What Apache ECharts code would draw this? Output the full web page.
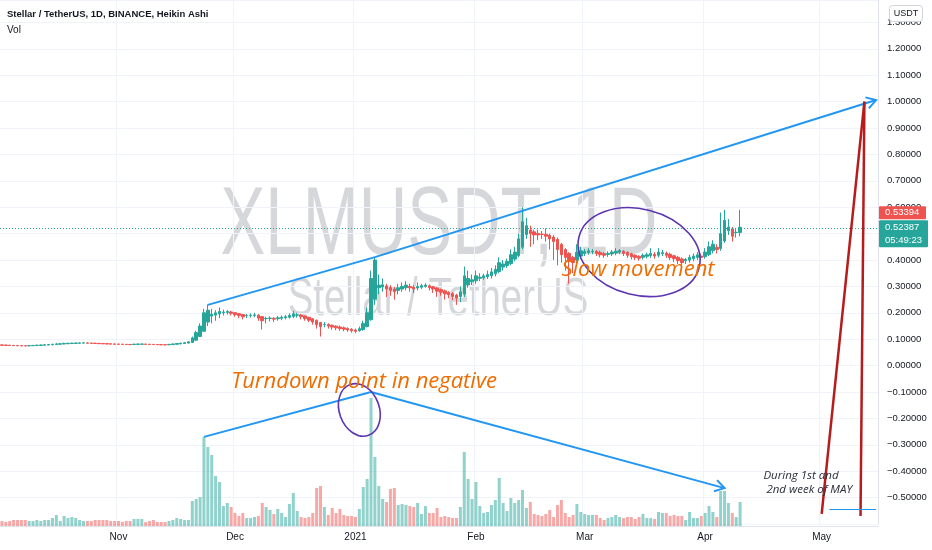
<!DOCTYPE html>
<html><head><meta charset="utf-8">
<script src="https://cdn.jsdelivr.net/npm/echarts@6/dist/echarts.min.js"></script>
<style>html,body{margin:0;padding:0;background:#fff}#c{width:932px;height:550px}</style>
</head><body><div id="c"></div>
<script>
// ---------- data ----------
const startDate = '2020-10-02';
const endDate = '2021-05-15';
const monthNames = ['Jan','Feb','Mar','Apr','May','Jun','Jul','Aug','Sep','Oct','Nov','Dec'];
// Heikin Ashi daily candles from 2020-10-02: [open, close, low, high]
const ohlc = [
[0.0785,0.0770,0.0752,0.0800],[0.0778,0.0765,0.0750,0.0790],[0.0772,0.0760,0.0746,0.0786],[0.0766,0.0755,0.0742,0.0780],[0.0760,0.0752,0.0738,0.0774],
[0.0756,0.0749,0.0735,0.0770],[0.0752,0.0747,0.0733,0.0768],[0.0749,0.0758,0.0738,0.0772],[0.0754,0.0766,0.0742,0.0780],[0.0760,0.0773,0.0748,0.0788],
[0.0767,0.0780,0.0754,0.0795],[0.0774,0.0788,0.0760,0.0802],[0.0781,0.0797,0.0768,0.0812],[0.0789,0.0808,0.0776,0.0825],[0.0798,0.0822,0.0785,0.0860],
[0.0810,0.0828,0.0795,0.0845],[0.0819,0.0840,0.0805,0.0870],[0.0829,0.0846,0.0815,0.0862],[0.0837,0.0851,0.0822,0.0866],[0.0844,0.0856,0.0830,0.0872],
[0.0850,0.0859,0.0836,0.0874],[0.0854,0.0861,0.0840,0.0876],[0.0858,0.0850,0.0836,0.0870],[0.0854,0.0845,0.0830,0.0866],[0.0849,0.0838,0.0824,0.0860],
[0.0844,0.0832,0.0818,0.0856],[0.0838,0.0826,0.0812,0.0850],[0.0832,0.0820,0.0806,0.0845],[0.0826,0.0815,0.0800,0.0838],[0.0820,0.0810,0.0796,0.0833],
[0.0815,0.0806,0.0792,0.0828],[0.0810,0.0802,0.0789,0.0824],[0.0806,0.0798,0.0785,0.0820],[0.0802,0.0795,0.0782,0.0816],[0.0798,0.0812,0.0786,0.0828],
[0.0805,0.0818,0.0792,0.0835],[0.0811,0.0816,0.0798,0.0830],[0.0814,0.0806,0.0794,0.0826],[0.0810,0.0800,0.0788,0.0822],[0.0805,0.0796,0.0784,0.0818],
[0.0800,0.0792,0.0780,0.0814],[0.0796,0.0789,0.0776,0.0810],[0.0792,0.0787,0.0774,0.0806],[0.0790,0.0805,0.0778,0.0820],[0.0798,0.0820,0.0786,0.0836],
[0.0809,0.0838,0.0796,0.0856],[0.0823,0.0850,0.0810,0.0868],[0.0836,0.0870,0.0822,0.0890],[0.0853,0.0900,0.0840,0.0930],[0.0876,0.1050,0.0860,0.1100],
[0.0963,0.1250,0.0940,0.1320],[0.1106,0.1500,0.1080,0.1600],[0.1303,0.2000,0.1280,0.2150],[0.1650,0.2100,0.1500,0.2320],[0.1875,0.1950,0.1600,0.2150],
[0.1912,0.2000,0.1700,0.2100],[0.1956,0.2050,0.1800,0.2200],[0.2003,0.2030,0.1900,0.2120],[0.2016,0.2050,0.1930,0.2100],[0.2033,0.1980,0.1900,0.2080],
[0.2006,0.1930,0.1850,0.2020],[0.1968,0.1900,0.1800,0.2000],[0.1934,0.1850,0.1750,0.1960],[0.1892,0.1900,0.1800,0.1960],[0.1896,0.1910,0.1820,0.1980],
[0.1903,0.1920,0.1830,0.2000],[0.1911,0.1800,0.1700,0.1950],[0.1856,0.1700,0.1370,0.1880],[0.1778,0.1790,0.1600,0.1850],[0.1784,0.1800,0.1680,0.1870],
[0.1792,0.1760,0.1650,0.1840],[0.1776,0.1810,0.1700,0.1880],[0.1793,0.1830,0.1720,0.1900],[0.1811,0.1850,0.1750,0.1920],[0.1830,0.1900,0.1780,0.1980],
[0.1865,0.1960,0.1800,0.2070],[0.1912,0.1920,0.1820,0.2000],[0.1916,0.1850,0.1750,0.1950],[0.1883,0.1780,0.1700,0.1900],[0.1831,0.1720,0.1650,0.1850],
[0.1776,0.1650,0.1550,0.1800],[0.1713,0.1550,0.1400,0.1750],[0.1631,0.1480,0.1100,0.1660],[0.1556,0.1560,0.1450,0.1650],[0.1558,0.1500,0.1400,0.1600],
[0.1529,0.1460,0.1360,0.1560],[0.1495,0.1430,0.1340,0.1530],[0.1462,0.1400,0.1320,0.1520],[0.1431,0.1380,0.1300,0.1480],[0.1405,0.1350,0.1280,0.1450],
[0.1378,0.1320,0.1250,0.1420],[0.1349,0.1300,0.1230,0.1400],[0.1324,0.1400,0.1280,0.1480],[0.1362,0.1600,0.1320,0.1700],[0.1481,0.2000,0.1450,0.2200],
[0.1740,0.3300,0.1700,0.3600],[0.2520,0.4000,0.2300,0.4100],[0.2950,0.3050,0.2700,0.3450],[0.2980,0.3060,0.2800,0.3300],[0.3020,0.2900,0.2600,0.3100],
[0.2960,0.2850,0.2650,0.3050],[0.2900,0.2800,0.2500,0.2980],[0.2850,0.2950,0.2700,0.3100],[0.2900,0.3000,0.2800,0.3150],[0.2950,0.3050,0.2850,0.3200],
[0.3000,0.2950,0.2800,0.3100],[0.2975,0.2900,0.2750,0.3050],[0.2938,0.3000,0.2850,0.3150],[0.2969,0.3030,0.2900,0.3100],[0.3000,0.3050,0.2950,0.3120],
[0.3025,0.2950,0.2850,0.3080],[0.2988,0.2900,0.2750,0.3020],[0.2944,0.2820,0.2600,0.2980],[0.2882,0.2780,0.2650,0.2920],[0.2831,0.2720,0.2500,0.2880],
[0.2776,0.2680,0.2550,0.2820],[0.2728,0.2620,0.2480,0.2780],[0.2674,0.2560,0.2300,0.2720],[0.2617,0.2800,0.2400,0.3000],[0.2709,0.3400,0.2600,0.3750],
[0.3054,0.3300,0.2950,0.3600],[0.3177,0.3250,0.3050,0.3450],[0.3213,0.3400,0.3100,0.3600],[0.3307,0.3350,0.3200,0.3500],[0.3328,0.3400,0.3250,0.3480],
[0.3364,0.3450,0.3280,0.3600],[0.3407,0.3550,0.3300,0.3700],[0.3478,0.3650,0.3380,0.3800],[0.3564,0.3900,0.3500,0.4100],[0.3732,0.3850,0.3600,0.4000],
[0.3791,0.3950,0.3700,0.4050],[0.3870,0.4200,0.3800,0.4400],[0.4035,0.4300,0.3950,0.4500],[0.4168,0.4800,0.4100,0.5000],[0.4484,0.5450,0.4400,0.6000],
[0.4967,0.5300,0.4800,0.5600],[0.5134,0.5000,0.4500,0.5300],[0.5067,0.4950,0.4600,0.5150],[0.5008,0.4950,0.4750,0.5150],[0.4979,0.4970,0.4800,0.5100],
[0.4975,0.4900,0.4700,0.5200],[0.4937,0.4800,0.4400,0.5000],[0.4869,0.4700,0.4000,0.4950],[0.4784,0.4400,0.3800,0.4850],[0.4592,0.4200,0.3900,0.4650],
[0.4396,0.4100,0.3600,0.4450],[0.4248,0.3950,0.3100,0.4300],[0.4099,0.3900,0.3500,0.4150],[0.4000,0.4300,0.3850,0.4600],[0.4150,0.4350,0.4050,0.4500],
[0.4250,0.4320,0.4150,0.4420],[0.4285,0.4350,0.4200,0.4450],[0.4318,0.4330,0.4220,0.4420],[0.4324,0.4250,0.4150,0.4380],[0.4287,0.4200,0.4100,0.4350],
[0.4244,0.4180,0.4080,0.4300],[0.4212,0.4250,0.4120,0.4330],[0.4231,0.4300,0.4150,0.4380],[0.4266,0.4330,0.4180,0.4450],[0.4298,0.4360,0.4220,0.4420],
[0.4329,0.4250,0.4150,0.4380],[0.4290,0.4180,0.4080,0.4330],[0.4235,0.4120,0.4020,0.4280],[0.4177,0.4100,0.4000,0.4220],[0.4139,0.4070,0.3980,0.4180],
[0.4104,0.4180,0.4020,0.4250],[0.4142,0.4200,0.4060,0.4280],[0.4171,0.4250,0.4080,0.4450],[0.4210,0.4150,0.4050,0.4300],[0.4180,0.4300,0.4100,0.4450],
[0.4240,0.4280,0.4150,0.4380],[0.4260,0.4180,0.4080,0.4320],[0.4220,0.4100,0.4000,0.4280],[0.4160,0.4050,0.3920,0.4200],[0.4105,0.3980,0.3850,0.4150],
[0.4043,0.3900,0.3750,0.4100],[0.3971,0.4020,0.3850,0.4080],[0.3996,0.4100,0.3900,0.4200],[0.4048,0.4150,0.3950,0.4250],[0.4099,0.4200,0.4000,0.4300],
[0.4150,0.4100,0.4000,0.4250],[0.4125,0.4300,0.4050,0.4450],[0.4212,0.4500,0.4150,0.4700],[0.4356,0.4600,0.4250,0.4750],[0.4478,0.4400,0.4250,0.4600],
[0.4439,0.5000,0.4350,0.5800],[0.4720,0.5500,0.4650,0.5900],[0.5110,0.5250,0.4950,0.5550],[0.5180,0.4900,0.4700,0.5250],[0.5040,0.5050,0.4850,0.5200],
[0.5045,0.5239,0.4900,0.5900]
];
// daily volume (tens of millions XLM)
const volumes = [
5,4,5,6,6,6,6,5,5,6, 5,6,6,8,11,5,10,8,9,8, 6,5,5,5,6,6,6,6,5,5, 5,4,5,5,7,7,7,4,5,6,
4,4,4,5,6,8,7,6,6,25, 27,29,89,79,71,50,44,20,23,19, 13,10,13,8,8,9,10,23,19,16, 12,17,13,9,22,33,15,9,8,9,
13,38,40,19,11,18,13,17,11,10, 10,9,17,39,47,128,69,40,27,24, 37,38,21,22,21,20,19,23,12,20, 13,13,18,9,10,9,8,8,19,74,
47,27,44,20,13,14,21,26,48,23, 15,28,23,26,36,18,24,12,11,10, 12,16,9,21,26,13,9,11,22,14, 12,11,11,11,8,6,8,9,11,9,
8,9,9,7,9,12,8,8,7,14, 13,13,10,11,10,10,6,14,8,8, 10,13,20,14,9,35,35,23,13,9, 24
];
const lastPrice = 0.52387;
const lastTrade = 0.53394;
const countdown = '05:49:23';
const priceMin = -0.6, priceMax = 1.385, priceStep = 0.1;
// drawings (date, price)
const trendPrice = [['2020-11-24',0.230],['2021-01-06',0.411],['2021-05-15',1.006]];
const trendVolume = [['2020-11-23',-0.270],['2021-01-05',-0.100],['2021-04-06',-0.464]];
const redLines = [['2021-05-01',-0.562],['2021-05-12',1.000],['2021-05-11',-0.570]];
const blueShort = [['2021-05-03',-0.545],['2021-05-15',-0.545]];
const ellipses = [{c:['2021-01-02',-0.168],rx:20,ry:27,rot:0.35},{c:['2021-03-15',0.43],rx:62,ry:43,rot:-0.25}];
const notes = [
  {at:['2021-02-23',0.362], text:'Slow movement', kind:'orange'},
  {at:['2020-11-30',-0.062], text:'Turndown point in negative', kind:'orange'},
  {at:['2021-04-16',-0.39], text:'During 1st and\n 2nd week of MAY', kind:'dark'}
];

// ---------- build ----------
const cats = [];
for (let t = Date.parse(startDate + 'T00:00:00Z'); t <= Date.parse(endDate + 'T00:00:00Z'); t += 86400000) {
  cats.push(new Date(t).toISOString().slice(0,10));
}
const UP = '#26a69a', DOWN = '#ef5350';
const volData = volumes.map((v,i) => ({value:v, itemStyle:{color: ohlc[i][1] >= ohlc[i][0] ? 'rgba(38,166,154,0.5)' : 'rgba(239,83,80,0.5)'}}));
const isMonthStart = (idx, v) => (v || cats[idx]).slice(8) === '01';
const fmtMonth = v => { const p = v.split('-'); return p[1] === '01' ? p[0] : monthNames[+p[1]-1]; };
const fmtPrice = v => (v < 0 ? '\u2212' : '') + Math.abs(v).toFixed(5);

const chart = echarts.init(document.getElementById('c'), null, {renderer:'canvas'});
chart.setOption({
  animation:false,
  backgroundColor:'#ffffff',
  grid:[
    {left:0, right:54, top:0, bottom:26},
    {left:0, right:54, top:326, bottom:24}
  ],
  xAxis:[
    {type:'category', gridIndex:0, data:cats, boundaryGap:true,
     axisLine:{show:false}, axisTick:{show:false}, axisLabel:{show:false},
     splitLine:{show:true, interval:isMonthStart, lineStyle:{color:'#f0f3fa', width:1}}},
    {type:'category', gridIndex:1, data:cats, boundaryGap:true,
     axisLine:{show:true, lineStyle:{color:'#e0e3eb'}}, axisTick:{show:false},
     axisLabel:{interval:isMonthStart, formatter:fmtMonth, color:'#131722', fontSize:10, margin:6, fontFamily:'Liberation Sans'},
     splitLine:{show:false}}
  ],
  yAxis:[
    {type:'value', gridIndex:0, position:'right', min:priceMin, max:priceMax, interval:priceStep,
     axisLine:{show:true, lineStyle:{color:'#e0e3eb'}}, axisTick:{show:false},
     axisLabel:{formatter:fmtPrice, color:'#131722', fontSize:9.5, margin:9, fontFamily:'Liberation Sans', showMinLabel:false, showMaxLabel:false},
     splitLine:{show:true, lineStyle:{color:'#f0f3fa', width:1}}},
    {type:'value', gridIndex:1, min:0, max:200, show:false, splitLine:{show:false}}
  ],
  series:[
    {type:'bar', name:'Vol', xAxisIndex:1, yAxisIndex:1, data:volData, barWidth:3, z:1},
    {type:'candlestick', name:'XLMUSDT', xAxisIndex:0, yAxisIndex:0, data:ohlc, barWidth:3, z:3,
     itemStyle:{color:UP, color0:DOWN, borderColor:UP, borderColor0:DOWN, borderWidth:1},
     markLine:{silent:true, symbol:['none','none'], label:{show:false},
       lineStyle:{color:UP, type:[1,2], width:1}, data:[{yAxis:lastPrice}]}}
  ]
});

// ---------- drawings ----------
const P = (d, v) => chart.convertToPixel({gridIndex:0}, [cats.indexOf(d), v]);
const yP = v => chart.convertToPixel({yAxisIndex:0}, v);
const g = [];
// watermark
g.push({type:'text', z:-1, x:439, y:228, scaleX:0.70,
  style:{text:'XLMUSDT, 1D', font:'96px "Liberation Sans"', fill:'rgba(120,123,134,0.3)', textAlign:'center', textVerticalAlign:'middle'}});
g.push({type:'text', z:-1, x:438, y:300, scaleX:0.71,
  style:{text:'Stellar / TetherUS', font:'54px "Liberation Sans"', fill:'rgba(120,123,134,0.3)', textAlign:'center', textVerticalAlign:'middle'}});
// legend
g.push({type:'text', z:50, x:7, y:14, style:{text:'Stellar / TetherUS, 1D, BINANCE, Heikin Ashi', font:'bold 9.5px "Liberation Sans"', fill:'#131722', textVerticalAlign:'middle'}});
g.push({type:'text', z:50, x:7, y:30, style:{text:'Vol', font:'10px "Liberation Sans"', fill:'#131722', textVerticalAlign:'middle'}});
// USDT box
g.push({type:'rect', z:50, shape:{x:889.5, y:5.5, width:33, height:16, r:3}, style:{fill:'#fff', stroke:'#d1d4dc', lineWidth:1}});
g.push({type:'text', z:51, x:906, y:14, style:{text:'USDT', font:'9px "Liberation Sans"', fill:'#131722', textAlign:'center', textVerticalAlign:'middle'}});

function seg(a, b, color, w, arrow){
  const p1 = P(a[0], a[1]), p2 = P(b[0], b[1]);
  g.push({type:'line', z:100, shape:{x1:p1[0], y1:p1[1], x2:p2[0], y2:p2[1]}, style:{stroke:color, lineWidth:w}});
  if (arrow){
    const an = Math.atan2(p2[1]-p1[1], p2[0]-p1[0]), L = 11, s = 0.55;
    g.push({type:'polyline', z:100, shape:{points:[
      [p2[0]-L*Math.cos(an-s), p2[1]-L*Math.sin(an-s)], [p2[0],p2[1]], [p2[0]-L*Math.cos(an+s), p2[1]-L*Math.sin(an+s)]]},
      style:{stroke:color, lineWidth:w, fill:null}});
  }
}
const BLUE = '#2196f3', DRED = '#b71c1c', PURPLE = '#5e35b1';
seg(trendPrice[0], trendPrice[1], BLUE, 2, false);
seg(trendPrice[1], trendPrice[2], BLUE, 2, true);
seg(trendVolume[0], trendVolume[1], BLUE, 2, false);
seg(trendVolume[1], trendVolume[2], BLUE, 2, true);
seg(redLines[0], redLines[1], DRED, 2.5, false);
seg(redLines[1], redLines[2], DRED, 2.5, false);
seg(blueShort[0], blueShort[1], BLUE, 1.2, false);
ellipses.forEach(e => {
  const c = P(e.c[0], e.c[1]);
  g.push({type:'ellipse', z:100, x:c[0], y:c[1], rotation:e.rot, shape:{cx:0, cy:0, rx:e.rx, ry:e.ry},
    style:{fill:null, stroke:PURPLE, lineWidth:1.6}});
});
notes.forEach(n => {
  const p = P(n.at[0], n.at[1]);
  const orange = n.kind === 'orange';
  g.push({type:'text', z:101, x:p[0], y:p[1], style:{text:n.text,
    font: orange ? 'italic 22px "Open Sans", "DejaVu Sans"' : 'italic 11.5px "Open Sans", "DejaVu Sans"',
    fill: orange ? '#ef6c00' : '#2a2e39', textVerticalAlign: orange ? 'middle' : 'top', lineHeight:14}});
});
// price tags
const yLast = yP(lastPrice);
g.push({type:'rect', z:60, shape:{x:879, y:yLast-7, width:49, height:27, r:1}, style:{fill:UP}});
g.push({type:'text', z:61, x:885, y:yLast, style:{text:lastPrice.toFixed(5), font:'9.5px "Liberation Sans"', fill:'#fff', textVerticalAlign:'middle'}});
g.push({type:'text', z:61, x:885, y:yLast+13, style:{text:countdown, font:'9.5px "Liberation Sans"', fill:'#fff', textVerticalAlign:'middle'}});
g.push({type:'rect', z:60, shape:{x:879, y:yLast-21, width:47, height:13, r:1}, style:{fill:DOWN}});
g.push({type:'text', z:61, x:885, y:yLast-14.5, style:{text:lastTrade.toFixed(5), font:'9.5px "Liberation Sans"', fill:'#fff', textVerticalAlign:'middle'}});

chart.setOption({graphic: g});
</script>
</body></html>
